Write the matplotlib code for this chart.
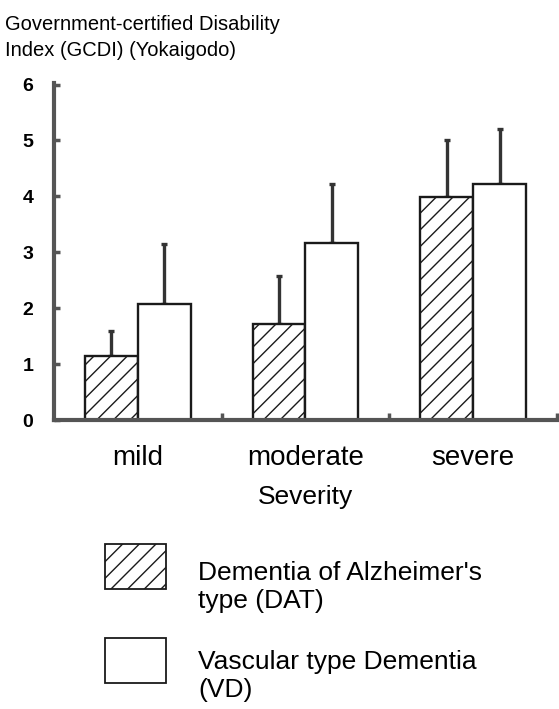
import matplotlib
matplotlib.use("Agg")
import matplotlib.pyplot as plt
from matplotlib.patches import Rectangle
import numpy as np

plt.rcParams["font.family"] = ["Liberation Sans", "DejaVu Sans"]
plt.rcParams["hatch.linewidth"] = 1.0

severity = ["mild", "moderate", "severe"]
dat_mean = [1.15, 1.72, 3.98]
dat_err = [0.45, 0.86, 1.02]
vd_mean = [2.08, 3.17, 4.23]
vd_err = [1.06, 1.06, 0.97]
yticks = [0, 1, 2, 3, 4, 5, 6]
legend_labels = ["Dementia of Alzheimer's\ntype (DAT)", "Vascular type Dementia\n(VD)"]
legend_hatches = ["//", ""]

W, H = 559, 709
fig = plt.figure(figsize=(W / 100, H / 100), dpi=100)
ax = fig.add_axes([0.0966, 0.4076, 0.8998, 0.4755])

x = np.arange(len(severity)) + 0.5
w = 0.315
ink = "#1a1a1a"

ax.bar(x - w / 2, dat_mean, w, color="white", edgecolor=ink, lw=1.7, hatch="//", zorder=2)
ax.bar(x + w / 2, vd_mean, w, color="white", edgecolor=ink, lw=1.7, zorder=2)
for xs, m, e in [(x - w / 2, dat_mean, dat_err), (x + w / 2, vd_mean, vd_err)]:
    ax.errorbar(xs, m, yerr=[np.zeros(len(e)), e], fmt="none", ecolor="#333333",
                elinewidth=2.4, capsize=2, capthick=2.4, zorder=1)

ax.set_xlim(0, 3)
ax.set_ylim(0, 6.03)
for side in ["top", "right"]:
    ax.spines[side].set_visible(False)
for side in ["left", "bottom"]:
    ax.spines[side].set_color("#555555")
    ax.spines[side].set_linewidth(3)

ax.set_yticks(yticks)
ax.set_yticklabels([str(t) for t in yticks], fontweight="bold", fontsize=14)
ax.tick_params(axis="y", direction="in", length=4, width=2.5, color="#555555", pad=15)
ax.set_xticks([1, 2, 3])
ax.set_xticklabels([])
ax.tick_params(axis="x", which="major", direction="in", length=5, width=2.5, color="#555555")
ax.set_xticks(x, minor=True)
ax.set_xticklabels(severity, minor=True, fontsize=20)
ax.tick_params(axis="x", which="minor", length=0, pad=18)
ax.set_xlabel("Severity", fontsize=19, labelpad=10)

fig.text(5 / W, 1 - 15 / H, "Government-certified Disability\nIndex (GCDI) (Yokaigodo)",
         ha="left", va="top", fontsize=14.5, linespacing=1.48)

# legend drawn by hand: box next to a two-line label
box_tops = [544, 638]
text_tops = [561, 650]
for top, ttop, label, hatch in zip(box_tops, text_tops, legend_labels, legend_hatches):
    fig.patches.append(Rectangle((105 / W, 1 - (top + 45) / H), 61 / W, 45 / H,
                                 transform=fig.transFigure, facecolor="white",
                                 edgecolor=ink, lw=1.3, hatch=hatch))
    fig.text(198 / W, 1 - ttop / H, label, ha="left", va="top",
             fontsize=19, linespacing=1.22)

fig.savefig("out.png", dpi=100)
